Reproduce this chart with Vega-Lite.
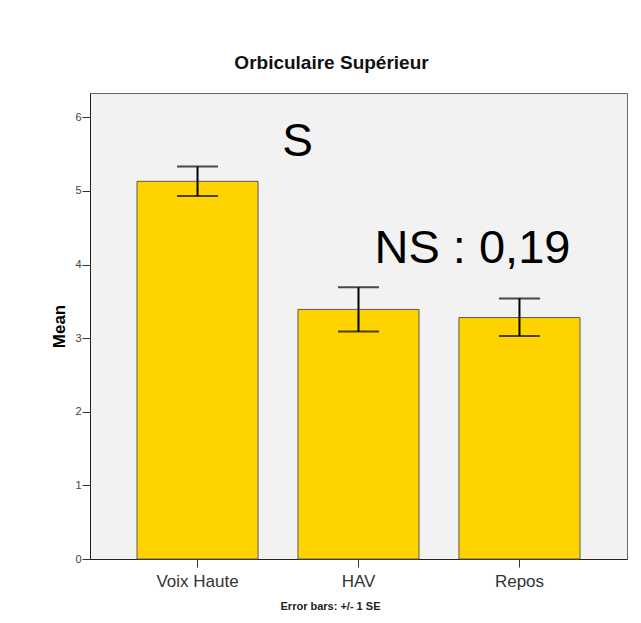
{
  "$schema": "https://vega.github.io/schema/vega-lite/v6.json",
  "width": 537,
  "height": 466,
  "autosize": "none",
  "padding": {"left": 90, "top": 93, "right": 14, "bottom": 64},
  "background": "white",
  "config": {
    "font": "Liberation Sans",
    "view": {"fill": "#f2f2f2", "stroke": "#666666", "strokeWidth": 1}
  },
  "title": {
    "text": "Orbiculaire Supérieur",
    "fontSize": 19,
    "fontWeight": "bold",
    "color": "#111111",
    "anchor": "middle",
    "dx": -27,
    "baseline": "alphabetic",
    "offset": 5
  },
  "data": {
    "values": [
      {"cond": "Voix Haute", "mean": 5.13, "lo": 4.93, "hi": 5.33},
      {"cond": "HAV", "mean": 3.39, "lo": 3.09, "hi": 3.69},
      {"cond": "Repos", "mean": 3.28, "lo": 3.03, "hi": 3.54}
    ]
  },
  "encoding": {
    "x": {
      "field": "cond",
      "type": "nominal",
      "scale": {"domain": ["Voix Haute", "HAV", "Repos"], "paddingInner": 0.248, "paddingOuter": 0.292},
      "axis": {
        "title": "Error bars: +/- 1 SE",
        "titleFontSize": 11,
        "titleFontWeight": "bold",
        "titleColor": "#222222",
        "titleX": 240,
        "titleAlign": "center",
        "titlePadding": 11,
        "labelFontSize": 17,
        "labelColor": "#333333",
        "labelAngle": 0,
        "labelPadding": 6,
        "tickSize": 8,
        "tickColor": "#333333",
        "domainColor": "#222222"
      }
    }
  },
  "layer": [
    {
      "mark": {"type": "bar", "fill": "#FFD300", "stroke": "#5a5a5a", "strokeWidth": 1},
      "encoding": {
        "y": {
          "field": "mean",
          "type": "quantitative",
          "scale": {"domain": [0, 6.33], "nice": false, "zero": true},
          "axis": {
            "values": [0, 1, 2, 3, 4, 5, 6],
            "format": "d",
            "title": "Mean",
            "titleFontSize": 17,
            "titleFontWeight": "bold",
            "titleColor": "#000000",
            "titlePadding": 6,
            "labelFontSize": 11,
            "labelColor": "#444444",
            "labelPadding": 1,
            "tickSize": 8,
            "tickColor": "#333333",
            "domainColor": "#222222",
            "grid": false
          }
        }
      }
    },
    {
      "mark": {"type": "rule", "color": "black", "strokeWidth": 2},
      "encoding": {
        "y": {"field": "lo", "type": "quantitative"},
        "y2": {"field": "hi"}
      }
    },
    {
      "mark": {"type": "tick", "color": "black", "thickness": 2, "size": 41},
      "encoding": {"y": {"field": "lo", "type": "quantitative"}}
    },
    {
      "mark": {"type": "tick", "color": "black", "thickness": 2, "size": 41},
      "encoding": {"y": {"field": "hi", "type": "quantitative"}}
    },
    {
      "data": {"values": [{"cond": "HAV", "ypos": 5.48, "label": "S"}]},
      "mark": {"type": "text", "fontSize": 46, "baseline": "alphabetic", "align": "center", "dx": -61, "color": "black"},
      "encoding": {
        "y": {"field": "ypos", "type": "quantitative"},
        "text": {"field": "label"}
      }
    },
    {
      "data": {"values": [{"cond": "Repos", "ypos": 4.02, "label": "NS : 0,19"}]},
      "mark": {"type": "text", "fontSize": 47, "baseline": "alphabetic", "align": "center", "dx": -47, "color": "black"},
      "encoding": {
        "y": {"field": "ypos", "type": "quantitative"},
        "text": {"field": "label"}
      }
    }
  ]
}
